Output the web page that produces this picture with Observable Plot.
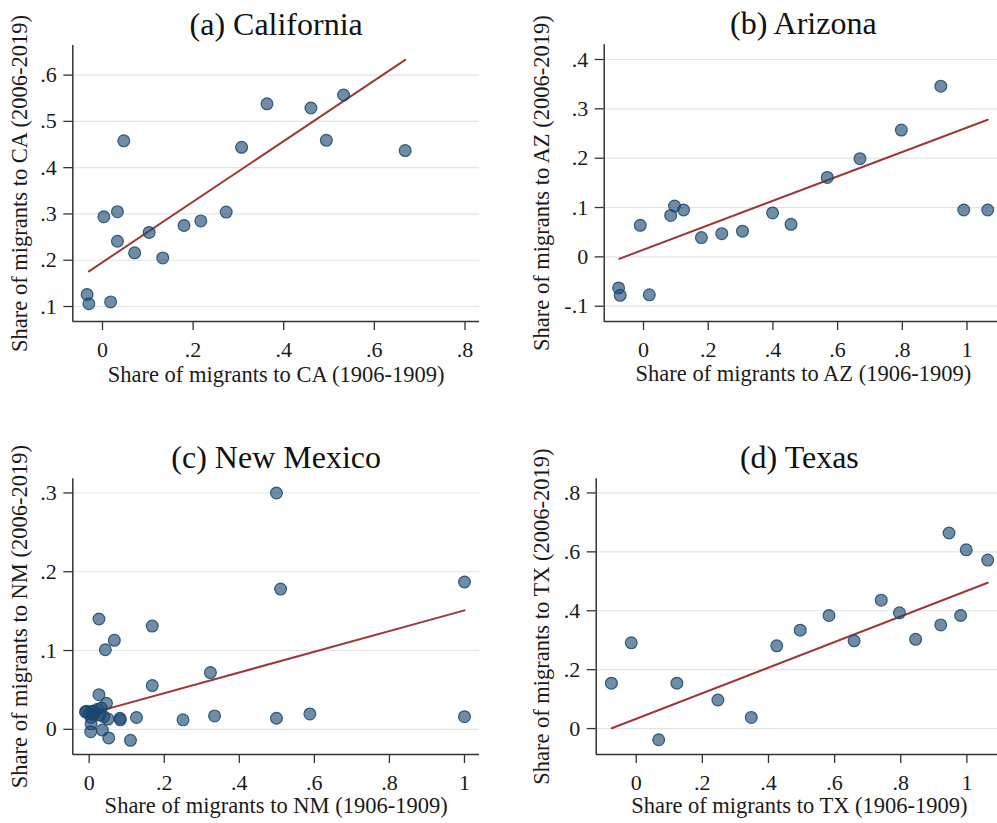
<!DOCTYPE html>
<html><head><meta charset="utf-8">
<script src="https://cdn.jsdelivr.net/npm/d3@7"></script>
<script src="https://cdn.jsdelivr.net/npm/@observablehq/plot@0.6"></script>
<style>
html,body{margin:0;padding:0;background:#fff;overflow:hidden}
#wrap{position:relative;width:997px;height:823px;overflow:hidden;background:#fff}
.panel{position:absolute}
</style></head>
<body><div id="wrap"></div>
<script>
// ---- Data ----
const caX = [-0.034,-0.030,0.018,0.003,0.033,0.033,0.047,0.071,0.103,0.133,0.180,0.217,0.273,0.307,0.363,0.460,0.494,0.532,0.668];
const caY = [0.126,0.106,0.110,0.294,0.305,0.241,0.458,0.216,0.260,0.205,0.275,0.285,0.304,0.444,0.538,0.529,0.459,0.557,0.437];
const caFitX = [-0.030, 0.668];
const caFitY = [0.176, 0.633];

const azX = [-0.077,-0.072,0.018,-0.010,0.084,0.096,0.124,0.179,0.242,0.306,0.399,0.456,0.568,0.669,0.797,0.919,0.990,1.064];
const azY = [-0.063,-0.078,-0.077,0.064,0.084,0.103,0.095,0.039,0.047,0.052,0.089,0.066,0.161,0.199,0.257,0.346,0.095,0.095];
const azFitX = [-0.075, 1.064];
const azFitY = [-0.004, 0.278];

const nmX = [0.499,0.510,1.000,0.026,0.168,0.067,0.043,0.323,0.168,0.026,0.046,-0.007,-0.010,0.021,0.032,0.005,0.012,0.039,0.050,0.082,0.083,0.126,0.250,0.334,0.499,0.588,1.000,0.005,0.004,0.035,0.052,0.110,0.000,0.015,0.028,0.008];
const nmY = [0.300,0.178,0.187,0.140,0.131,0.113,0.101,0.072,0.0555,0.044,0.033,0.023,0.022,0.025,0.027,0.015,0.019,0.016,0.013,0.014,0.012,0.015,0.012,0.017,0.014,0.0195,0.016,0.007,-0.003,-0.001,-0.011,-0.014,0.020,0.022,0.018,0.023];
const nmFitX = [0.000, 1.000];
const nmFitY = [0.0196, 0.151];

const txX = [-0.075,-0.015,0.068,0.123,0.247,0.348,0.425,0.496,0.583,0.659,0.741,0.796,0.845,0.921,0.946,0.981,0.998,1.063];
const txY = [0.154,0.291,-0.038,0.154,0.097,0.038,0.281,0.334,0.384,0.298,0.436,0.393,0.303,0.352,0.664,0.384,0.607,0.572];
const txFitX = [-0.074, 1.063];
const txFitY = [0.001, 0.495];

const titles = ["(a) California", "(b) Arizona", "(c) New Mexico", "(d) Texas"];
const xLabels = ["Share of migrants to CA (1906-1909)", "Share of migrants to AZ (1906-1909)", "Share of migrants to NM (1906-1909)", "Share of migrants to TX (1906-1909)"];
const yLabels = ["Share of migrants to CA (2006-2019)", "Share of migrants to AZ (2006-2019)", "Share of migrants to NM (2006-2019)", "Share of migrants to TX (2006-2019)"];

const caXTicks = [0, 0.2, 0.4, 0.6, 0.8];
const caYTicks = [0.1, 0.2, 0.3, 0.4, 0.5, 0.6];
const azXTicks = [0, 0.2, 0.4, 0.6, 0.8, 1];
const azYTicks = [-0.1, 0, 0.1, 0.2, 0.3, 0.4];
const nmXTicks = [0, 0.2, 0.4, 0.6, 0.8, 1];
const nmYTicks = [0, 0.1, 0.2, 0.3];
const txXTicks = [0, 0.2, 0.4, 0.6, 0.8, 1];
const txYTicks = [0, 0.2, 0.4, 0.6, 0.8];

// ---- Rendering ----
const FONT = "'Liberation Serif', 'Times New Roman', serif";
const fmt = d => d === 0 ? "0" : String(+d.toFixed(2)).replace("0.", ".");
const DOT = "#1a476f";
const FIT = "#9e3838";

function panel(o) {
  const pts = o.xs.map((x, i) => ({x, y: o.ys[i]}));
  const fit = o.fx.map((x, i) => ({x, y: o.fy[i]}));
  const [mt, mr, mb, ml] = o.margin;
  const chart = Plot.plot({
    width: o.width, height: o.height,
    marginTop: mt, marginRight: mr, marginBottom: mb, marginLeft: ml,
    style: {fontFamily: FONT, fontSize: "22px", color: "#1a1a1a", background: "transparent", overflow: "visible"},
    x: {domain: o.xDomain},
    y: {domain: o.yDomain},
    marks: [
      Plot.gridY(o.yTicks, {stroke: "#e3e3e3", strokeOpacity: 1, strokeWidth: 1.2}),
      Plot.ruleY([o.yDomain[0]], {stroke: "#333", strokeWidth: 1.5}),
      Plot.ruleX([o.xDomain[0]], {stroke: "#333", strokeWidth: 1.5}),
      Plot.axisX(o.xTicks, {tickSize: 9, tickPadding: 11, tickFormat: fmt, stroke: "#333", strokeWidth: 1.3, fontSize: 22, label: null}),
      Plot.axisY(o.yTicks, {tickSize: 9, tickPadding: 7, tickFormat: fmt, stroke: "#333", strokeWidth: 1.3, fontSize: 22, label: null}),
      Plot.line(fit, {x: "x", y: "y", stroke: FIT, strokeWidth: 2}),
      Plot.dot(pts, {x: "x", y: "y", r: 5.9, fill: DOT, fillOpacity: 0.62, stroke: DOT, strokeOpacity: 0.85, strokeWidth: 1.2}),
      Plot.text([o.title], {frameAnchor: "top", dy: -10.7, lineAnchor: "bottom", textAnchor: "middle", fontSize: 32, fill: "#111"}),
      Plot.text([o.xLabel], {frameAnchor: "bottom", dy: o.xLabelDy, lineAnchor: "bottom", textAnchor: "middle", fontSize: 22.5, fill: "#1a1a1a"}),
      Plot.text([o.yLabel], {frameAnchor: "left", dx: o.yLabelDx, rotate: -90, lineAnchor: "bottom", textAnchor: "middle", fontSize: 22.5, fill: "#1a1a1a"})
    ]
  });
  chart.classList.add("panel");
  chart.style.left = o.left + "px";
  chart.style.top = o.top + "px";
  document.getElementById("wrap").appendChild(chart);
}

panel({left: 0, top: 0, width: 498, height: 400, margin: [45, 19, 79, 72.3],
  xDomain: [-0.0655, 0.832], yDomain: [0.0676, 0.664], xTicks: caXTicks, yTicks: caYTicks,
  xs: caX, ys: caY, fx: caFitX, fy: caFitY, title: titles[0], xLabel: xLabels[0], yLabel: yLabels[0],
  xLabelDy: 60, yLabelDx: -46.3});

panel({left: 498, top: 0, width: 504, height: 400, margin: [44.3, 0, 79, 105.7],
  xDomain: [-0.1215, 1.1097], yDomain: [-0.131, 0.4298], xTicks: azXTicks, yTicks: azYTicks,
  xs: azX, ys: azY, fx: azFitX, fy: azFitY, title: titles[1], xLabel: xLabels[1], yLabel: yLabels[1],
  xLabelDy: 59.5, yLabelDx: -55.7});

panel({left: 0, top: 410, width: 498, height: 413, margin: [68.3, 19, 69, 72.3],
  xDomain: [-0.0437, 1.040], yDomain: [-0.032, 0.318], xTicks: nmXTicks, yTicks: nmYTicks,
  xs: nmX, ys: nmY, fx: nmFitX, fy: nmFitY, title: titles[2], xLabel: xLabels[2], yLabel: yLabels[2],
  xLabelDy: 58.5, yLabelDx: -46.3});

panel({left: 498, top: 410, width: 504, height: 413, margin: [68.3, 0, 69, 97.7],
  xDomain: [-0.121, 1.1077], yDomain: [-0.088, 0.848], xTicks: txXTicks, yTicks: txYTicks,
  xs: txX, ys: txY, fx: txFitX, fy: txFitY, title: titles[3], xLabel: xLabels[3], yLabel: yLabels[3],
  xLabelDy: 58.5, yLabelDx: -47.7});
</script>
</body></html>
